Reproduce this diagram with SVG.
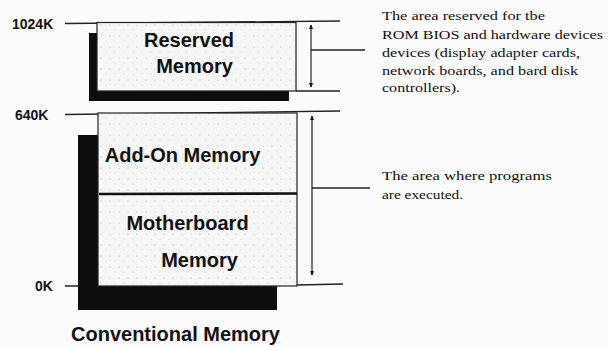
<svg xmlns="http://www.w3.org/2000/svg" width="608" height="347" viewBox="0 0 608 347">
  <defs>
    <pattern id="stipple" width="9" height="11" patternUnits="userSpaceOnUse">
      <rect width="9" height="11" fill="#f6f6f6"/>
      <circle cx="2" cy="3" r="0.5" fill="#b8b8b8"/>
      <circle cx="7" cy="8" r="0.45" fill="#c4c4c4"/>
    </pattern>
    <marker id="head" viewBox="0 0 8 8" refX="7" refY="4" markerWidth="5" markerHeight="5" orient="auto-start-reverse" markerUnits="userSpaceOnUse">
      <path d="M0,0.5 L8,4 L0,7.5 Z" fill="#111"/>
    </marker>
  </defs>
  <style>
    .box { fill: url(#stipple); stroke: #222; stroke-width: 1.2; }
    .shadow { fill: #0d0d0d; }
    .line { stroke: #222; stroke-width: 1.3; fill: none; }
    .arrow { stroke: #222; stroke-width: 1.2; fill: none; marker-start: url(#head); marker-end: url(#head); }
    .boxlabel { font-family: "Liberation Sans", Arial, sans-serif; font-weight: bold; font-size: 20px; fill: #111; text-anchor: middle; }
    .scale { font-family: "Liberation Sans", Arial, sans-serif; font-weight: bold; font-size: 14px; fill: #111; }
    .note { font-family: "Liberation Serif", "Times New Roman", serif; font-size: 13.5px; fill: #111; }
  </style>
  <rect width="608" height="347" fill="#fbfbfb"/>

  <g id="scale-labels">
    <text class="scale" x="12" y="29">1024K</text>
    <text class="scale" x="15" y="120">640K</text>
    <text class="scale" x="35" y="291">0K</text>
  </g>

  <g id="connectors">
    <line class="line" x1="65" y1="23.5" x2="340" y2="21"/>
    <line class="line" x1="296" y1="91" x2="340" y2="91"/>
    <line class="line" x1="65" y1="114.5" x2="340" y2="111"/>
    <line class="line" x1="65" y1="286" x2="98" y2="286"/>
    <line class="line" x1="297" y1="285" x2="343" y2="284"/>
    <line class="arrow" x1="311" y1="25" x2="311" y2="87"/>
    <line class="line" x1="311" y1="50" x2="365" y2="50"/>
    <line class="arrow" x1="312" y1="116" x2="312" y2="275"/>
    <line class="line" x1="312" y1="188" x2="370" y2="188"/>
  </g>

  <g id="node-reserved">
    <rect class="shadow" x="89" y="33" width="200" height="68"/>
    <rect class="box" x="97" y="22.5" width="199" height="68.5"/>
    <text class="boxlabel" x="189" y="47">Reserved</text>
    <text class="boxlabel" x="194.5" y="73">Memory</text>
  </g>

  <g id="node-conventional">
    <rect class="shadow" x="78" y="135" width="199" height="175"/>
    <rect class="box" x="98" y="113" width="199" height="173"/>
    <g id="node-addon">
      <text class="boxlabel" x="182.5" y="162">Add-On Memory</text>
    </g>
    <line x1="99" y1="194" x2="297" y2="193.5" stroke="#111" stroke-width="2.6"/>
    <g id="node-motherboard">
      <text class="boxlabel" x="187.5" y="230">Motherboard</text>
      <text class="boxlabel" x="199.5" y="267">Memory</text>
    </g>
  </g>

  <g id="note-reserved">
    <text class="note" x="382" y="20" textLength="163" lengthAdjust="spacingAndGlyphs">The area reserved for tbe</text>
    <text class="note" x="382" y="39" textLength="221" lengthAdjust="spacingAndGlyphs">ROM BIOS and hardware devices</text>
    <text class="note" x="382" y="57" textLength="198" lengthAdjust="spacingAndGlyphs">devices (display adapter cards,</text>
    <text class="note" x="382" y="75" textLength="196" lengthAdjust="spacingAndGlyphs">network boards, and bard disk</text>
    <text class="note" x="382" y="92" textLength="78" lengthAdjust="spacingAndGlyphs">controllers).</text>
  </g>

  <g id="note-programs">
    <text class="note" x="382" y="180" textLength="170" lengthAdjust="spacingAndGlyphs">The area where programs</text>
    <text class="note" x="382" y="199" textLength="81" lengthAdjust="spacingAndGlyphs">are executed.</text>
  </g>

  <text id="caption" class="boxlabel" x="175.5" y="341">Conventional Memory</text>
</svg>
